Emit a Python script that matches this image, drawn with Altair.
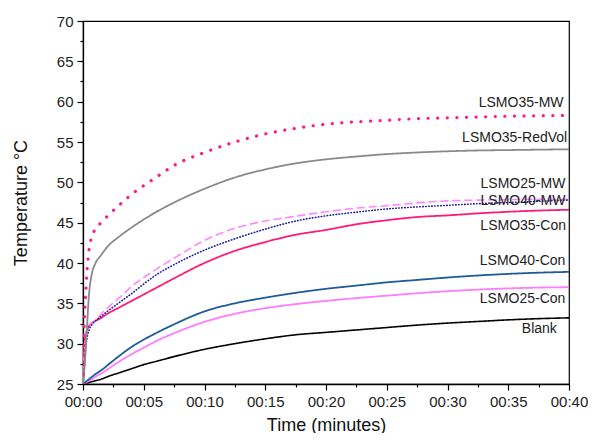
import altair as alt
import pandas as pd

# time in minutes
time_min = [0, 0.1, 0.25, 0.5, 0.75, 1, 1.5, 2, 3, 4, 5, 6, 7.5, 10, 12.5, 15, 17.5, 20,
            22.5, 25, 27.5, 30, 32.5, 35, 37.5, 40]

lsmo35_mw = [25, 32, 37, 41.7, 43.3, 44.2, 45.0, 45.8, 47.2, 48.5, 49.6, 50.6, 52.1, 53.7,
             55.0, 56.0, 56.7, 57.2, 57.5, 57.7, 57.9, 58.0, 58.1, 58.2, 58.25, 58.3]
lsmo35_redvol = [25, 26.5, 30, 36.2, 38.8, 39.9, 41.0, 42.0, 43.3, 44.4, 45.4, 46.3, 47.5, 49.2,
                 50.6, 51.6, 52.35, 52.85, 53.2, 53.5, 53.7, 53.85, 53.95, 54.0, 54.05, 54.1]
lsmo25_mw = [25, 28.5, 31, 32.2, 32.6, 32.9, 33.7, 34.4, 35.7, 37.1, 38.2, 39.2, 40.6, 42.8,
             44.3, 45.2, 45.8, 46.35, 46.8, 47.1, 47.45, 47.7, 47.8, 47.85, 47.9, 47.9]
lsmo40_mw = [25, 27, 29.8, 31.7, 32.4, 32.8, 33.4, 34.0, 35.1, 36.2, 37.4, 38.5, 39.8, 41.6,
             43.0, 44.2, 45.2, 45.85, 46.3, 46.7, 46.95, 47.15, 47.35, 47.5, 47.65, 47.8]
lsmo35_con = [25, 29.5, 31.2, 32.2, 32.6, 32.8, 33.2, 33.7, 34.5, 35.3, 36.1, 36.9, 38.1, 40.0,
              41.5, 42.6, 43.5, 44.1, 44.8, 45.3, 45.7, 45.9, 46.15, 46.35, 46.5, 46.6]
lsmo40_con = [25, 25.1, 25.3, 25.6, 25.9, 26.2, 26.7, 27.3, 28.5, 29.6, 30.5, 31.3, 32.4, 34.0,
              35.0, 35.7, 36.3, 36.8, 37.2, 37.6, 37.9, 38.2, 38.45, 38.65, 38.8, 38.9]
lsmo25_con = [25, 25.1, 25.2, 25.4, 25.6, 25.9, 26.3, 26.8, 27.8, 28.7, 29.5, 30.3, 31.3, 32.7,
              33.7, 34.4, 34.9, 35.3, 35.65, 35.95, 36.25, 36.5, 36.7, 36.85, 36.95, 37.0]
blank = [25, 25.05, 25.1, 25.2, 25.3, 25.4, 25.6, 25.9, 26.4, 26.9, 27.4, 27.8, 28.4, 29.3,
         30.0, 30.6, 31.1, 31.4, 31.7, 32.0, 32.3, 32.55, 32.75, 32.95, 33.1, 33.2]

# label annotations
label_text = ["LSMO35-MW", "LSMO35-RedVol", "LSMO25-MW", "LSMO40-MW",
              "LSMO35-Con", "LSMO40-Con", "LSMO25-Con", "Blank"]
label_x = [39.55, 39.85, 39.7, 39.7, 39.75, 39.7, 39.7, 39.0]
label_y = [59.8, 55.5, 49.8, 47.7, 44.6, 40.3, 35.5, 31.8]

# tick values
x_major = [0, 5, 10, 15, 20, 25, 30, 35, 40]
x_minor = [2.5, 7.5, 12.5, 17.5, 22.5, 27.5, 32.5, 37.5]
y_major = [25, 30, 35, 40, 45, 50, 55, 60, 65, 70]
y_minor = [27.5, 32.5, 37.5, 42.5, 47.5, 52.5, 57.5, 62.5, 67.5]

# (name, values, color, dash, width)
series = [
    ("Blank", blank, "#000000", [1, 0], 1.6),
    ("LSMO25-Con", lsmo25_con, "#ff7bff", [1, 0], 1.8),
    ("LSMO40-Con", lsmo40_con, "#1f5b99", [1, 0], 1.8),
    ("LSMO35-Con", lsmo35_con, "#ff1a7a", [1, 0], 1.8),
    ("LSMO25-MW", lsmo25_mw, "#ff88ff", [7, 5], 1.6),
    ("LSMO40-MW", lsmo40_mw, "#1c1c9c", [0.5, 2.5], 1.6),
    ("LSMO35-RedVol", lsmo35_redvol, "#8a8a8a", [1, 0], 1.8),
    ("LSMO35-MW", lsmo35_mw, "#ff1a8c", [0.1, 9.5], 3.2),
]

x_scale = alt.Scale(domain=[0, 40], nice=False)
y_scale = alt.Scale(domain=[25, 70], nice=False)

common = dict(grid=False, domainColor="#000", tickColor="#000", labelColor="#222",
              titleColor="#111", domainWidth=1.3, tickWidth=1.2, labelFlush=False,
              labelOverlap=False)

x_axis = alt.Axis(
    values=x_major, orient="bottom",
    labelExpr="'00:' + (datum.value < 10 ? '0' : '') + datum.value",
    tickSize=6, title="Time (minutes)", titleFontSize=18, titleFontWeight="normal",
    titlePadding=7, labelFontSize=15, labelPadding=4, **common,
)
y_axis = alt.Axis(
    values=y_major, orient="left",
    tickSize=6, title="Temperature °C", titleFontSize=18, titleFontWeight="normal",
    titlePadding=26, labelFontSize=15, labelPadding=4, **common,
)
x_axis_minor = alt.Axis(values=x_minor, orient="bottom", tickSize=3, labels=False,
                        domain=False, title=None, grid=False, tickColor="#000", tickWidth=1.2)
y_axis_minor = alt.Axis(values=y_minor, orient="left", tickSize=3, labels=False,
                        domain=False, title=None, grid=False, tickColor="#000", tickWidth=1.2)

line_layers = []
for name, vals, color, dash, width in series:
    df = pd.DataFrame({"t": time_min, "T": vals, "name": name})
    line_layers.append(
        alt.Chart(df).mark_line(
            color=color, strokeDash=dash, strokeWidth=width,
            strokeCap="round" if dash != [1, 0] else "butt",
            interpolate="monotone", clip=True,
        ).encode(
            x=alt.X("t:Q", scale=x_scale, axis=x_axis),
            y=alt.Y("T:Q", scale=y_scale, axis=y_axis),
        )
    )
lines = alt.layer(*line_layers)

labels_df = pd.DataFrame({"text": label_text, "t": label_x, "T": label_y})
labels = alt.Chart(labels_df).mark_text(
    align="right", baseline="middle", fontSize=14, font="Liberation Sans", color="#222"
).encode(
    x=alt.X("t:Q", scale=x_scale, axis=x_axis_minor),
    y=alt.Y("T:Q", scale=y_scale, axis=y_axis_minor),
    text="text:N",
)

chart = alt.layer(lines, labels).resolve_axis(x="independent", y="independent").properties(
    width=486, height=363,
    autosize=alt.AutoSizeParams(type="none"),
    padding={"left": 75, "top": 13, "right": 19, "bottom": 49},
).configure(font="Liberation Sans").configure_view(stroke="#000", strokeWidth=1.2)

chart.save("out.html", embed_options={"renderer": "svg", "actions": False})
